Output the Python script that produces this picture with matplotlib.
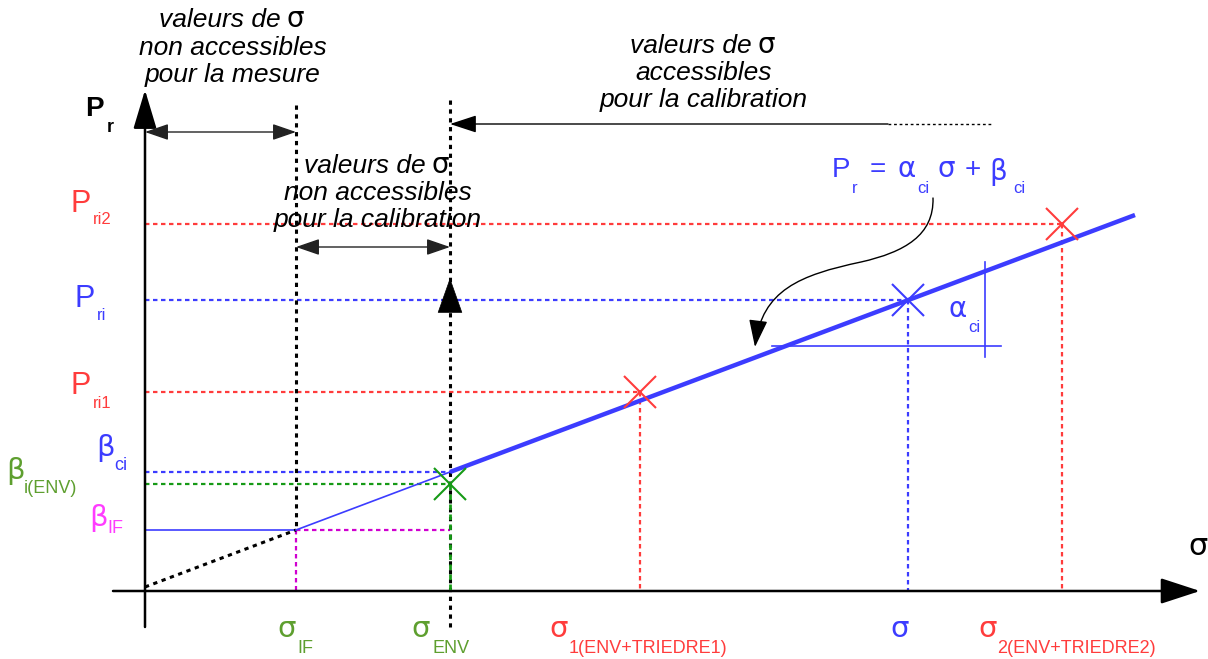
import matplotlib.pyplot as plt
from matplotlib.patches import FancyArrowPatch, ArrowStyle
from matplotlib.path import Path

plt.rcParams['font.family'] = ['Liberation Sans', 'DejaVu Sans']

RED = '#ff3c3c'
BLUE = '#3c3cff'
GREEN = '#169a16'
OLIVE = '#5e9f2f'
MAGENTA = '#ff3cff'
DARK_MAGENTA = '#d000d0'
GREEK = ['DejaVu Sans']

# sigma / P_r values of the diagram, origin where the two axes cross
sigma_IF = 151
sigma_ENV = 305
sigma_calib = [495, 917]        # sigma_1(ENV+TRIEDRE1), sigma_2(ENV+TRIEDRE2)
P_calib = [199, 367]            # P_ri1, P_ri2
sigma_meas = 763
P_meas = 291                    # P_ri
beta_ci = 119
beta_env = 107
beta_IF = 61

fit_sigma = [305, 990]          # calibration line, thick
fit_P = [119, 376]
extrap_sigma = [151, 305]       # extension down to sigma_IF
extrap_P = [61, 119]
origin_sigma = [0, 151]         # dotted extension to the origin
origin_P = [4, 61]

slope_h_sigma = [627, 856]      # small slope triangle
slope_h_P = 245
slope_v_sigma = 840
slope_v_P = [234, 329]

sigma_top = 491                 # top of the vertical separators
arrow_meas_P = 459
arrow_calib_P = 344
arrow_ok_P = 467
arrow_ok_sigma = [743, 848]

fig = plt.figure(figsize=(12.08, 6.59), dpi=100)
ax = fig.add_axes([0, 0, 1, 1])
ax.set_xlim(-145, 1063)
ax.set_ylim(-68, 591)
ax.axis('off')

dot = (0, (2.0, 1.6))
bdot = (0, (1.4, 1.5))
DLW = 1.6


def put(px, py, s, color='k', size=20, ha='left', **kw):
    # text placed from the top-left corner of the figure, in pixels
    ax.text(px - 145, 591 - py, s, color=color, fontsize=size, ha=ha,
            va='baseline', **kw)


def greek(px, py, s, color='k', size=20):
    put(px, py, s, color, size, ha='center', family=GREEK)


def arrow(a, b, style, hl, hw, lw=1.0, color='k', z=3):
    p = FancyArrowPatch(a, b, arrowstyle=ArrowStyle(style, head_length=hl, head_width=hw),
                        mutation_scale=1, lw=lw, color=color, shrinkA=0, shrinkB=0, zorder=z)
    ax.add_patch(p)


# axes
arrow((0, -36), (0, 501), '-|>', 24, 7.2, lw=1.8)
arrow((-32, 0), (1055, 0), '-|>', 24.5, 8, lw=1.8)

# horizontal guides
ax.plot([0, sigma_calib[1]], [P_calib[1]] * 2, ls=dot, lw=DLW, color=RED)
ax.plot([0, sigma_meas], [P_meas] * 2, ls=dot, lw=DLW, color=BLUE)
ax.plot([0, sigma_calib[0]], [P_calib[0]] * 2, ls=dot, lw=DLW, color=RED)
ax.plot([0, sigma_ENV], [beta_ci] * 2, ls=dot, lw=DLW, color=BLUE)
ax.plot([0, sigma_ENV], [beta_env] * 2, ls=dot, lw=DLW, color=GREEN)
ax.plot([0, sigma_IF], [beta_IF] * 2, lw=1.2, color=BLUE)
ax.plot([sigma_IF, sigma_ENV], [beta_IF] * 2, ls=dot, lw=DLW, color=DARK_MAGENTA)

# vertical guides
ax.plot([sigma_calib[0]] * 2, [P_calib[0], 0], ls=dot, lw=DLW, color=RED)
ax.plot([sigma_meas] * 2, [P_meas, 0], ls=dot, lw=DLW, color=BLUE)
ax.plot([sigma_calib[1]] * 2, [P_calib[1], 0], ls=dot, lw=DLW, color=RED)
ax.plot([sigma_IF] * 2, [sigma_top - 5, beta_IF], ls=bdot, lw=2.2, color='k')
ax.plot([sigma_IF] * 2, [beta_IF, 0], ls=dot, lw=DLW, color=DARK_MAGENTA)
ax.plot([sigma_ENV] * 2, [sigma_top, -36], ls=bdot, lw=2.2, color='k')
ax.plot([sigma_ENV] * 2, [beta_env, 0], ls=dot, lw=2.0, color=GREEN, zorder=3)

# calibration line
ax.plot(origin_sigma, origin_P, ls=bdot, lw=2.2, color='k')
ax.plot(extrap_sigma, extrap_P, lw=1.2, color=BLUE)
ax.plot(fit_sigma, fit_P, lw=3.2, color=BLUE, solid_capstyle='butt', zorder=4)
ax.plot(slope_h_sigma, [slope_h_P] * 2, lw=1.2, color=BLUE)
ax.plot([slope_v_sigma] * 2, slope_v_P, lw=1.2, color=BLUE)

# points
ax.plot(sigma_calib, P_calib, 'x', ms=23, mew=1.5, color=RED, zorder=5)
ax.plot([sigma_meas], [P_meas], 'x', ms=23, mew=1.5, color=BLUE, zorder=5)
ax.plot([sigma_ENV], [beta_env], 'x', ms=23, mew=1.5, color=GREEN, zorder=5)

# range arrows
arrow((0, arrow_meas_P), (sigma_IF, arrow_meas_P), '<|-|>', 14.5, 5, color='#222222')
arrow((sigma_IF, arrow_calib_P), (sigma_ENV, arrow_calib_P), '<|-|>', 14.5, 5, color='#222222')
arrow((arrow_ok_sigma[0], arrow_ok_P), (sigma_ENV, arrow_ok_P), '-|>', 16.5, 5.4, color='k')
ax.plot(arrow_ok_sigma, [arrow_ok_P] * 2, ls=(0, (2, 2)), lw=1, color='k')
arrow((sigma_ENV, 279), (sigma_ENV, 313), '-|>', 24, 8.5, lw=0.5, z=6)

# curved pointer from the equation to the line
verts = [(788, 393), (789, 356), (760, 339), (716, 329),
         (655, 316), (617, 301), (610, 244)]
codes = [Path.MOVETO] + [Path.CURVE4] * 6
ax.add_patch(FancyArrowPatch(path=Path(verts, codes),
                             arrowstyle=ArrowStyle('-|>', head_length=17, head_width=5.8),
                             mutation_scale=1, lw=1, color='k', zorder=6))

# annotations: the sigma of the first line is upright
blocks = [
    (233, [27, 55, 82], ['non accessibles', 'pour la mesure']),
    (378, [173, 200, 227], ['non accessibles', 'pour la calibration']),
    (704, [53, 80, 107], ['accessibles', 'pour la calibration']),
]
for cx, ys, lines in blocks:
    put(cx + 48, ys[0], 'valeurs de', size=19, ha='right', style='italic')
    put(cx + 62, ys[0], 'σ', size=20, ha='center', family=GREEK)
    for y, s in zip(ys[1:], lines):
        put(cx, y, s, size=19, ha='center', style='italic')

put(94.5, 116, 'P', size=20, ha='center', weight='bold')
put(107, 132, 'r', size=13, weight='bold')

put(81, 212, 'P', RED, 22, ha='center')
put(93, 224, 'ri2', RED, 12)
put(85, 307, 'P', BLUE, 22, ha='center')
put(97, 320, 'ri', BLUE, 12)
put(81, 394, 'P', RED, 22, ha='center')
put(93, 408, 'ri1', RED, 12)
greek(105.5, 456, 'β', BLUE, 21)
put(114, 470, 'ci', BLUE, 13)
greek(15.5, 479, 'β', OLIVE, 21)
put(24, 493, 'i(ENV)', OLIVE, 13)
greek(98.5, 526, 'β', MAGENTA, 21)
put(107, 533, 'IF', MAGENTA, 13)

greek(286.5, 637, 'σ', OLIVE, 21)
put(297, 653, 'IF', OLIVE, 13)
greek(421, 637, 'σ', OLIVE, 21)
put(432, 653, 'ENV', OLIVE, 13)
greek(559, 637, 'σ', RED, 21)
put(569, 653, '1(ENV+TRIEDRE1)', RED, 13)
greek(899.5, 637, 'σ', BLUE, 21)
greek(988, 637, 'σ', RED, 21)
put(997, 653, '2(ENV+TRIEDRE2)', RED, 13)
greek(1197.5, 555, 'σ', 'k', 22)

# equation of the calibration line
put(840.5, 177, 'P', BLUE, 20, ha='center')
put(852, 193, 'r', BLUE, 12)
put(878, 177, '=', BLUE, 20, ha='center')
greek(906.5, 177, 'α', BLUE, 20)
put(917, 193, 'ci', BLUE, 12)
greek(946.5, 177, 'σ', BLUE, 20)
put(972.5, 177, '+', BLUE, 20, ha='center')
greek(998.5, 180, 'β', BLUE, 20)
put(1013, 193, 'ci', BLUE, 12)

greek(958, 317, 'α', BLUE, 20)
put(968, 332, 'ci', BLUE, 12)

fig.savefig('out.png', dpi=100)
